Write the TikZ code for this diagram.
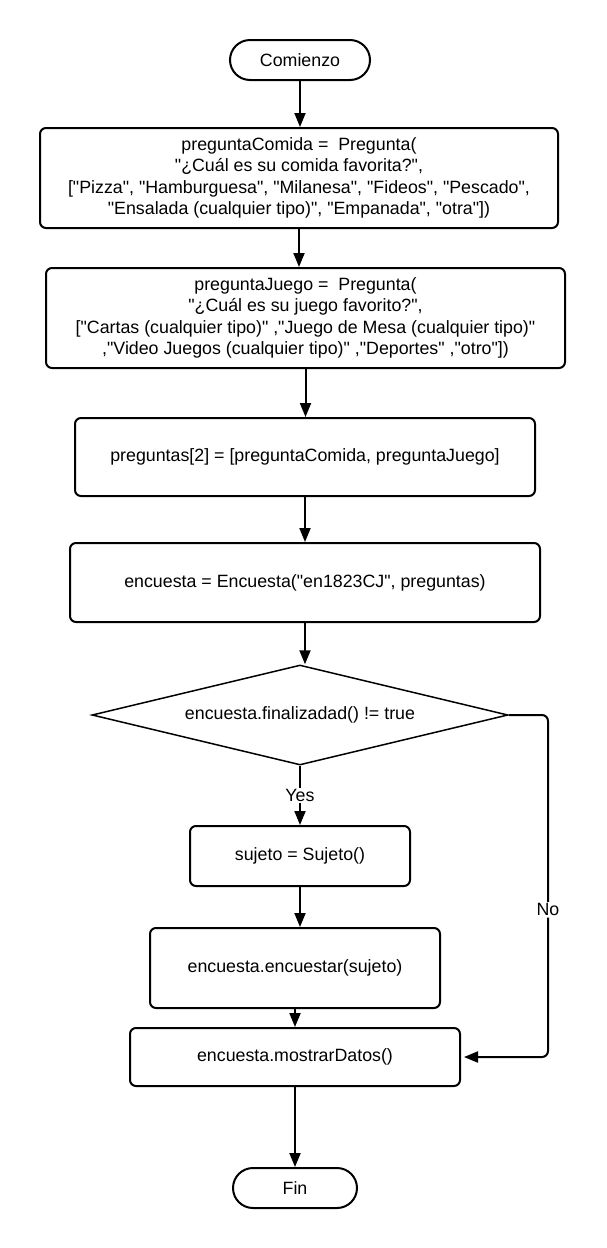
\documentclass[tikz,border=0pt]{standalone}
\usepackage{fontspec}
\setmainfont{Liberation Sans}[Ligatures=TeXOff]
\usetikzlibrary{shapes.geometric,arrows.meta}
\begin{document}
\begin{tikzpicture}[x=1pt,y=-1pt,
  font=\fontsize{17.8}{21.5}\selectfont,
  box/.style={draw, line width=2pt, rounded corners=6pt, inner sep=0pt, align=center},
  term/.style={draw, line width=2pt, rounded corners=20pt, inner sep=0pt, align=center},
  dec/.style={draw, diamond, shape aspect=4.16, line width=1.5pt, inner sep=0pt, align=center},
  arr/.style={line width=2pt, -{Triangle[length=14pt,width=11pt]}},
  lbl/.style={fill=white, inner sep=1.5pt}]
\useasboundingbox (0,0) rectangle (606,1248);
\fill[white] (0,0) rectangle (606,1248);

\node[term, minimum width=140, minimum height=40] (start) at (300,60) {Comienzo};
\node[box, minimum width=518, minimum height=100] (b1) at (299,178)
  {preguntaComida =\ \ Pregunta(\\ "¿Cuál es su comida favorita?",\\ {}["Pizza", "Hamburguesa", "Milanesa", "Fideos", "Pescado",\\ "Ensalada (cualquier tipo)", "Empanada", "otra"])};
\node[box, minimum width=519, minimum height=100] (b2) at (305.5,318)
  {preguntaJuego =\ \ Pregunta(\\ "¿Cuál es su juego favorito?",\\ {}["Cartas (cualquier tipo)" ,"Juego de Mesa (cualquier tipo)"\\ ,"Video Juegos (cualquier tipo)" ,"Deportes" ,"otro"])};
\node[box, minimum width=460, minimum height=78] (b3) at (305,457)
  {preguntas[2] = [preguntaComida, preguntaJuego]};
\node[box, minimum width=470, minimum height=79] (b4) at (305,582.5)
  {encuesta = Encuesta("en1823CJ", preguntas)};
\node[dec, minimum width=416, minimum height=100] (d) at (300,715)
  {encuesta.finalizadad() != true};
\node[box, minimum width=220, minimum height=60] (b5) at (300,856)
  {sujeto = Sujeto()};
\node[box, minimum width=290, minimum height=80] (b6) at (295,968)
  {encuesta.encuestar(sujeto)};
\node[box, minimum width=330, minimum height=58] (b7) at (295,1057)
  {encuesta.mostrarDatos()};
\node[term, minimum width=124, minimum height=40] (fin) at (295,1188) {Fin};

\coordinate (c1) at (548,715);
\coordinate (c2) at (548,1057);

\draw[arr] (start.south) -- (start.south |- b1.north);
\draw[arr] (b1.south) -- (b1.south |- b2.north);
\draw[arr] (b2.south) -- (b2.south |- b3.north);
\draw[arr] (b3.south) -- (b3.south |- b4.north);
\draw[arr] (b4.south) -- (b4.south |- d.north);
\draw[arr] (d.south) -- node[lbl]{Yes} (d.south |- b5.north);
\draw[arr] (b5.south) -- (b5.south |- b6.north);
\draw[arr] (b6.south) -- (b7.north);
\draw[arr] (b7.south) -- (fin.north);
\draw[arr, rounded corners=6pt] (d.east) -- (c1) -- node[lbl, pos=0.57]{No} (c2) -- ([xshift=3pt]b7.east);
\end{tikzpicture}
\end{document}
